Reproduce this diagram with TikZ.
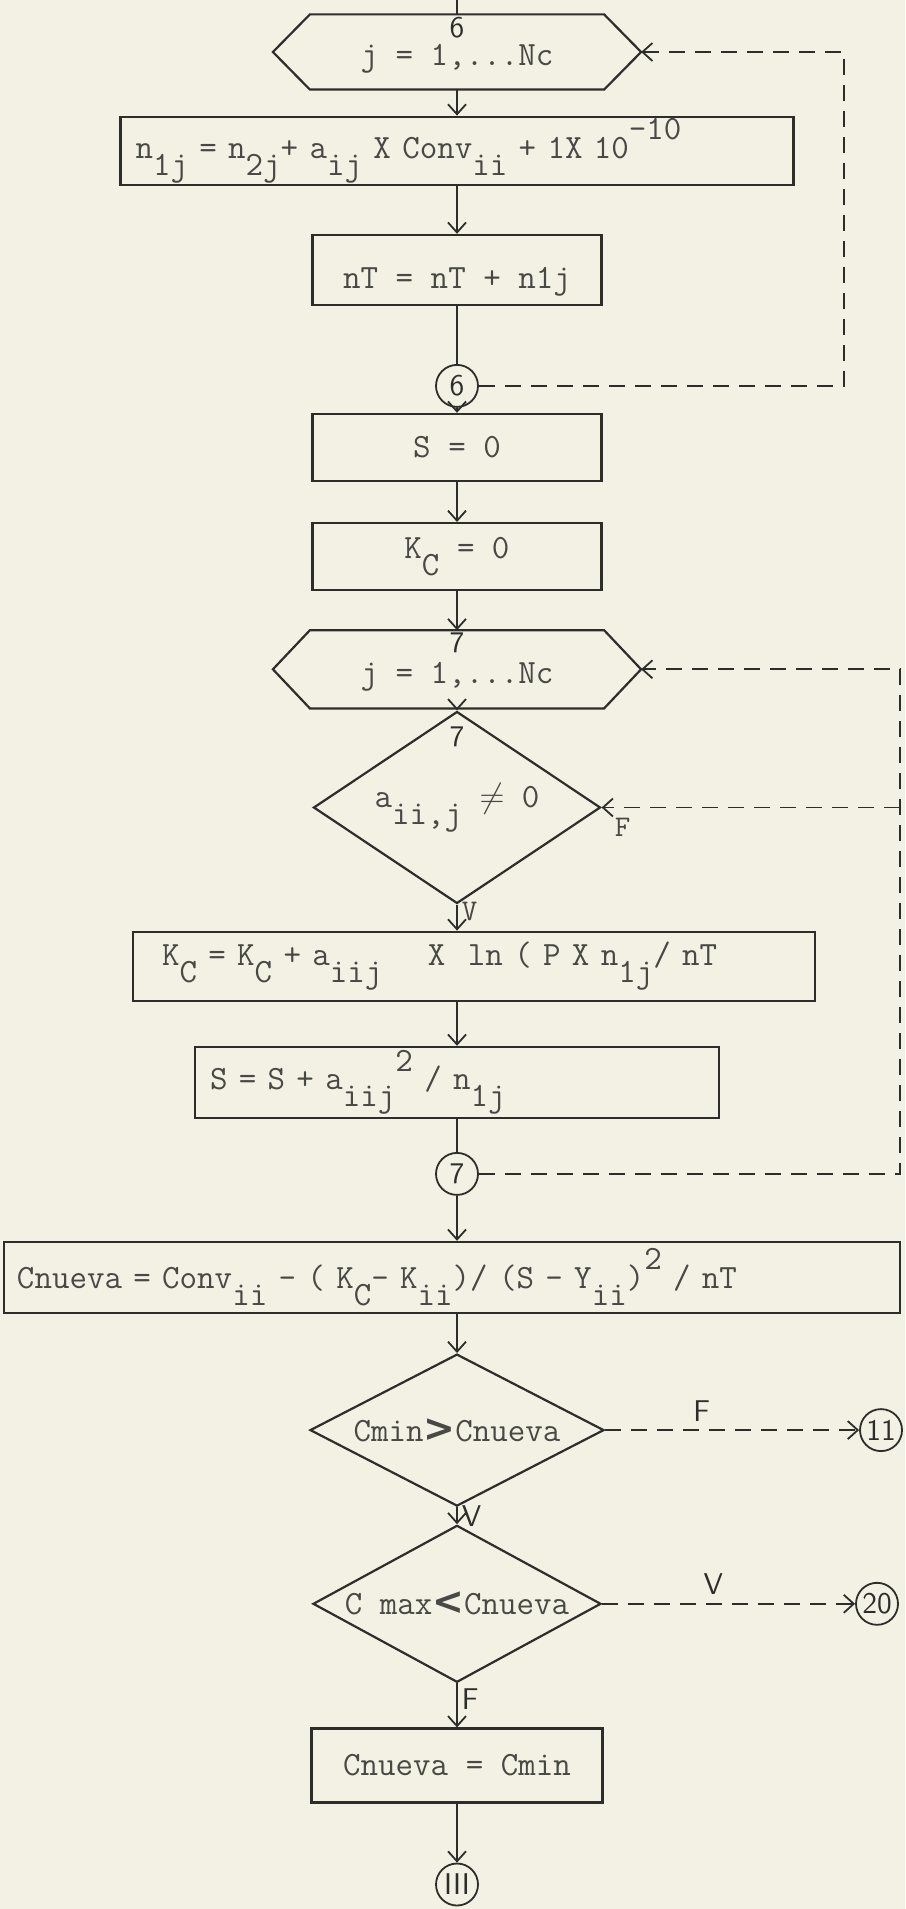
\documentclass[tikz,border=0pt]{standalone}
\usepackage{amsmath,amssymb}
\usepackage{fontspec}
\usepackage{xcolor}
\usetikzlibrary{shapes.geometric,arrows.meta,positioning}
\newfontfamily\markfont{DejaVu Sans}
\definecolor{paper}{RGB}{243,241,228}
\definecolor{ink}{RGB}{45,45,42}
\definecolor{typed}{RGB}{72,72,68}
\newcommand{\lowtxt}[1]{\raisebox{-0.5em}{#1}}
\newcommand{\hightxt}[1]{\raisebox{0.55em}{#1}}

\begin{document}
\begin{tikzpicture}[
    x=0.5pt, y=-0.5pt,
    outline/.style={draw=ink, line width=1.1pt},
    box/.style={outline, rectangle, inner xsep=4pt, inner ysep=0pt,
                minimum width=144.5pt, minimum height=34pt,
                font=\ttfamily\fontsize{17}{19}\selectfont, text=typed},
    loopbox/.style={box, draw=none, minimum width=146pt, minimum height=36.5pt,
                    text height=14pt, text depth=0pt},
    test/.style={box, diamond, aspect=2, inner sep=1pt},
    conn/.style={circle, draw=ink, line width=0.9pt, minimum size=21pt,
                 inner sep=1pt, font=\sffamily\fontsize{15}{17}\selectfont, text=ink},
    hand/.style={font=\sffamily\fontsize{15}{17}\selectfont, text=ink, inner sep=2pt},
    lbl/.style={font=\ttfamily\fontsize{15}{17}\selectfont, text=typed, inner sep=2pt},
    line/.style={draw=ink, line width=0.9pt},
    arr/.style={line, -{Straight Barb[length=5pt,width=9pt]}},
    back/.style={arr, dash pattern=on 8pt off 5pt}
  ]
  \path[use as bounding box, fill=paper] (0,0) rectangle (905,1909);

  % Loop head (6)
  \coordinate (start) at (457,0);
  \node[loopbox] (h1) at (457,52) {j = 1,...Nc};
  \draw[outline] (h1.north west) -- (h1.north east)
      -- ([xshift=18.5pt]h1.east) coordinate (h1tip)
      -- (h1.south east) -- (h1.south west)
      -- ([xshift=-18.5pt]h1.west) -- cycle;
  \node[hand, below=-1pt of h1.north] (n6) {6};
  % Loop body (6)
  \node[box, minimum width=336.5pt, text width=321.5pt, align=left, below=13pt of h1] (b2)
    {n\lowtxt{1j} = n\lowtxt{2j}+ a\lowtxt{ij} X Conv\lowtxt{ii} + 1X 10\hightxt{-10}};
  \node[box, minimum height=35pt, text height=19pt, text depth=0pt, below=24pt of b2] (b3)
    {nT = nT + n1j};
  \node[conn, below=29pt of b3] (c6) {6};
  % Initial sums
  \node[box, minimum height=33.5pt, below=2.5pt of c6] (b4) {S = 0};
  \node[box, minimum height=33.5pt, below=20pt of b4] (b5) {K\lowtxt{C} = 0};
  % Loop head (7)
  \node[loopbox, minimum height=38pt, below=19.5pt of b5] (h2) {j = 1,...Nc};
  \draw[outline] (h2.north west) -- (h2.north east)
      -- ([xshift=18.5pt]h2.east) coordinate (h2tip)
      -- (h2.south east) -- (h2.south west)
      -- ([xshift=-18.5pt]h2.west) -- cycle;
  \node[hand, below=-1pt of h2.north] (n7a) {7};
  % Loop body (7)
  \node[test, minimum width=143.5pt, minimum height=96pt, below=1pt of h2] (d1)
    {a\lowtxt{ii,j} $\neq$ 0};
  \node[hand, below=6pt of d1.north] (n7b) {7};
  \node[box, minimum width=341pt, minimum height=34.5pt, text width=312pt, align=left,
        below=13pt of d1, xshift=8.5pt] (b6)
    {K\lowtxt{C} = K\lowtxt{C} + a\lowtxt{iij}\ \ \ \ X\ \ ln ( P X n\lowtxt{1j}/ nT};
  \node[box, minimum width=262pt, minimum height=35.5pt, text width=247pt, align=left,
        below=22pt of b6, xshift=-8.5pt] (b7)
    {S = S + a\lowtxt{iij}\hightxt{2} / n\lowtxt{1j}};
  \node[conn, below=16.5pt of b7] (c7) {7};
  % New value
  \node[box, minimum width=448pt, minimum height=35.5pt, text width=435pt, align=left,
        below=22.5pt of c7, xshift=-2.5pt] (b8)
    {Cnueva = Conv\lowtxt{ii} - ( K\lowtxt{C}- K\lowtxt{ii})/ (S - Y\lowtxt{ii})\hightxt{2} / nT};
  % Tests
  \node[test, minimum width=147pt, minimum height=76pt, below=19.5pt of b8, xshift=2.5pt] (d2)
    {Cmin{\markfont\bfseries\fontsize{19}{19}\selectfont >}Cnueva};
  \node[test, minimum width=144pt, minimum height=78.5pt, below=8.5pt of d2] (d3)
    {C max{\markfont\bfseries\fontsize{19}{19}\selectfont <}Cnueva};
  \node[box, minimum width=145.5pt, minimum height=37pt, below=22pt of d3] (b9) {Cnueva = Cmin};
  % Exits
  \node[conn, below=29.5pt of b9] (c3) {III};
  \node[conn, right=127pt of d2] (c11) {11};
  \node[conn, right=126.5pt of d3] (c20) {20};
  \coordinate (loopA) at (844,0);
  \coordinate (loopB) at (900,0);

  % Main flow
  \draw[line] (start) -- (h1);
  \draw[arr] (h1) -- (b2);
  \draw[arr] (b2.south -| b3) -- (b3);
  \draw[line] (b3) -- (c6);
  \draw[arr] (c6) -- (b4);
  \draw[arr] (b4) -- (b5);
  \draw[arr] (b5) -- (h2);
  \draw[arr] (h2) -- (d1);
  \draw[arr] (d1) -- node[lbl, pos=0.25, right] (lv1) {V} (d1 |- b6.north);
  \draw[arr] (b6.south -| b7) -- (b7);
  \draw[line] (b7) -- (c7);
  \draw[arr] (c7) -- (c7 |- b8.north);
  \draw[arr] (b8.south -| d2) -- (d2);
  \draw[arr] (d2) -- node[hand, pos=0.5, right] (lv2) {V} (d3);
  \draw[arr] (d3) -- node[hand, pos=0.35, right] (lf3) {F} (b9);
  \draw[arr] (b9) -- (c3);
  % Branches
  \draw[back] (d2) -- node[hand, pos=0.38, above=2pt] (lf2) {F} (c11);
  \draw[back] (d3) -- node[hand, pos=0.44, above=2pt] (lv3) {V} (c20);
  % Loop returns
  \draw[back] (c6) -- (c6 -| loopA) |- (h1tip);
  \draw[back] (c7) -- (c7 -| loopB) |- (h2tip);
  \draw[back] (d1.east -| loopB) -- node[lbl, pos=0.93, below=3pt] (lf1) {F} (d1.east);
\end{tikzpicture}
\end{document}
